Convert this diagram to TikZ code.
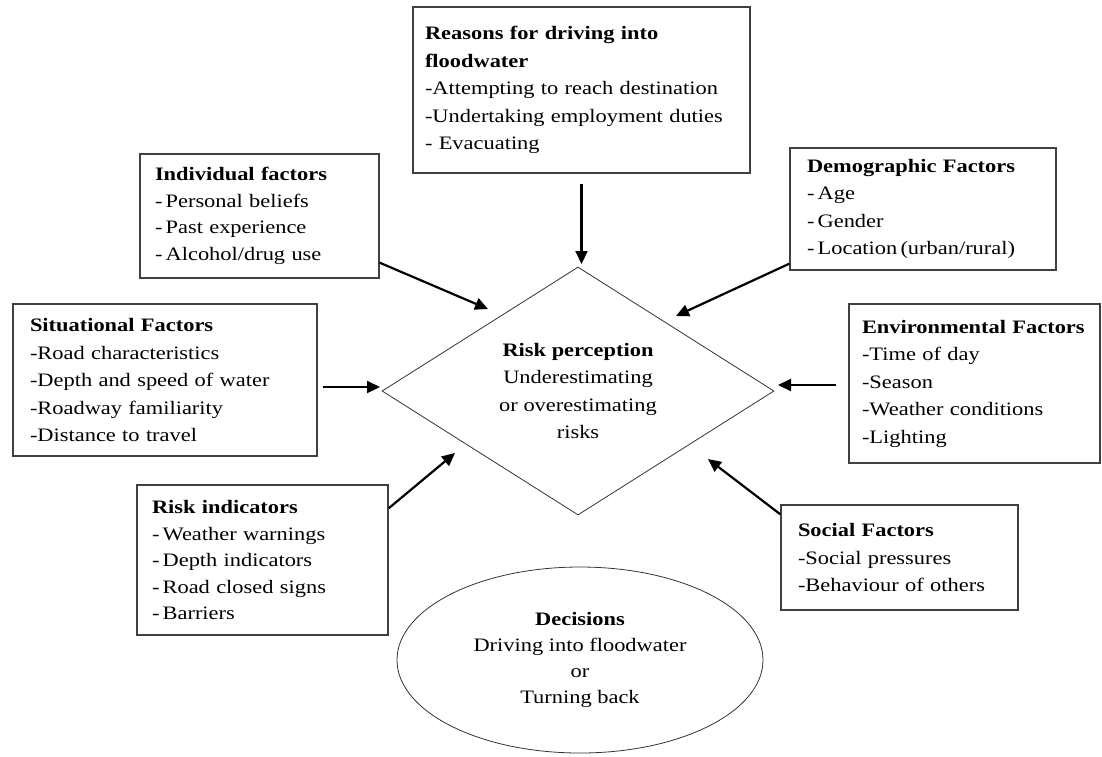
\documentclass[tikz,border=0pt]{standalone}
\usepackage{fontspec}
\setmainfont{Liberation Serif}[FakeStretch=1.18]
\usetikzlibrary{shapes.geometric,arrows.meta}
\begin{document}
\begin{tikzpicture}[x=1pt,y=-1pt,
  fbox/.style={draw=black!75, line width=1.4pt, rectangle, inner xsep=0pt, inner ysep=2pt, align=left, font=\fontsize{19}{27.5}\selectfont},
  fboxt/.style={fbox, font=\fontsize{19}{26.5}\selectfont},
  shp/.style={draw=black!80, line width=0.8pt, inner sep=0pt, align=center},
  arr/.style={line width=2.2pt, -{Triangle[length=13pt,width=12pt]}}
]
\useasboundingbox (0,0) rectangle (1102,756);

% boxes
\node[fbox, minimum width=337pt, minimum height=166pt, text width=313pt] (reasons) at (581.5,90)
  {\textbf{Reasons for driving into}\\\textbf{floodwater}\\-Attempting to reach destination\\-Undertaking employment duties\\- Evacuating};
\node[fboxt, minimum width=239pt, minimum height=124pt, text width=209pt] (indiv) at (259.5,216)
  {\textbf{Individual factors}\\-\,Personal beliefs\\-\,Past experience\\-\,Alcohol/drug use};
\node[fbox, minimum width=266pt, minimum height=122pt, text width=232pt] (demo) at (923,209)
  {\textbf{Demographic Factors}\\-\,Age\\-\,Gender\\-\,Location\,(urban/rural)};
\node[fbox, minimum width=304pt, minimum height=152pt, text width=270pt] (situ) at (165,380)
  {\textbf{Situational Factors}\\-Road characteristics\\-Depth and speed of water\\-Roadway familiarity\\-Distance to travel};
\node[fbox, minimum width=251pt, minimum height=159pt, text width=225pt] (env) at (974.5,383.5)
  {\textbf{Environmental Factors}\\-Time of day\\-Season\\-Weather conditions\\-Lighting};
\node[fboxt, minimum width=251pt, minimum height=150pt, text width=221pt] (riskind) at (262.5,560)
  {\textbf{Risk indicators}\\-\,Weather warnings\\-\,Depth indicators\\-\,Road closed signs\\-\,Barriers};
\node[fbox, minimum width=237pt, minimum height=105pt, text width=203pt] (social) at (899.5,557.5)
  {\textbf{Social Factors}\\-Social pressures\\-Behaviour of others};

% centre shapes
\node[shp, diamond, aspect=1.6, minimum width=392pt, minimum height=248pt, font=\fontsize{19}{27.5}\selectfont] (risk) at (578,391)
  {\textbf{Risk perception}\\Underestimating\\or overestimating\\risks};
\node[shp, ellipse, minimum width=366pt, minimum height=186pt, font=\fontsize{19}{26}\selectfont] (dec) at (580,660)
  {\textbf{Decisions}\\Driving into floodwater\\or\\Turning back};

% arrow tips
\coordinate (t1) at (581.5,264);
\coordinate (t2) at (488,309);
\coordinate (t3) at (676,316);
\coordinate (t4) at (380,387);
\coordinate (t5) at (778,385);
\coordinate (t6) at (455,453);
\coordinate (t7) at (708,459);

\draw[arr, shorten <=10pt] (reasons.south) -- (t1);
\draw[arr] ([yshift=16pt]indiv.south east) -- (t2);
\draw[arr] ([yshift=7pt]demo.south west) -- (t3);
\draw[arr, shorten <=5pt] (situ.east |- t4) -- (t4);
\draw[arr, shorten <=12pt] (env.west |- t5) -- (t5);
\draw[arr] ([yshift=-24pt]riskind.north east) -- (t6);
\draw[arr] ([yshift=-10pt]social.north west) -- (t7);
\end{tikzpicture}
\end{document}
